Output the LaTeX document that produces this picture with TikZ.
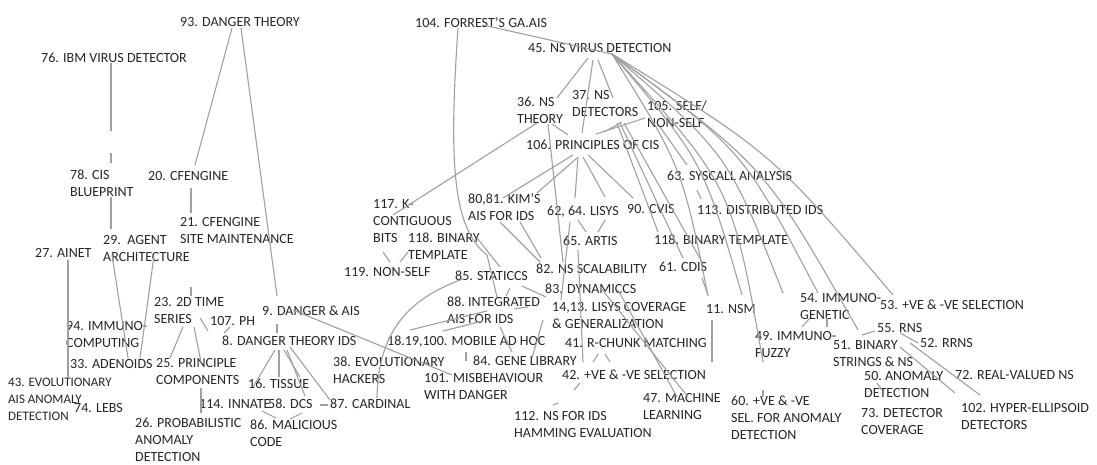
\documentclass[tikz,border=0pt]{standalone}
\usepackage{fontspec}
\setmainfont{Carlito}
\definecolor{txt}{HTML}{262626}
\definecolor{lnc}{HTML}{A0A0A0}
\begin{document}
\begin{tikzpicture}[x=1pt,y=-1pt,
  lab/.style={anchor=north west,inner sep=0pt,align=left,text=txt,font=\fontsize{14}{17}\selectfont},
  ln/.style={draw=lnc,line width=1.1pt}]
\useasboundingbox[fill=white] (0,0) rectangle (1097,465);
% ---------- labels ----------
\node[lab] (n93) at (180,17) {93. DANGER THEORY};
\node[lab] (n76) at (41,53) {76. IBM VIRUS DETECTOR};
\node[lab] (n78) at (70,170) {78. CIS\\BLUEPRINT};
\node[lab] (n20) at (148,171) {20. CFENGINE};
\node[lab] (n21) at (180,217) {21. CFENGINE\\SITE MAINTENANCE};
\node[lab] (n29) at (103,235) {29.\ \ AGENT\\ARCHITECTURE};
\node[lab] (n27) at (35,248) {27. AINET};
\node[lab] (n23) at (154,297) {23. 2D TIME\\SERIES};
\node[lab] (n107) at (210,316) {107. PH};
\node[lab] (n9) at (262,306) {9. DANGER \& AIS};
\node[lab] (n94) at (66,321) {94. IMMUNO-\\COMPUTING};
\node[lab] (n8) at (222,336) {8. DANGER THEORY IDS};
\node[lab] (n33) at (70,359) {33. ADENOIDS};
\node[lab] (n25) at (156,358) {25. PRINCIPLE\\COMPONENTS};
\node[lab,font=\fontsize{13}{17}\selectfont] (n43) at (8,378) {43. EVOLUTIONARY\\AIS ANOMALY\\DETECTION};
\node[lab] (n74) at (74,403) {74. LEBS};
\node[lab] (n16) at (248,379) {16. TISSUE};
\node[lab] (n114) at (199,399) {114. INNATE};
\node[lab] (n58) at (268,399) {58. DCS};
\node[lab] (n87) at (330,399) {87. CARDINAL};
\node[lab] (n86) at (250,420) {86. MALICIOUS\\CODE};
\node[lab] (n26) at (135,418) {26. PROBABILISTIC\\ANOMALY\\DETECTION};
\node[lab] (n38) at (333,357) {38. EVOLUTIONARY\\HACKERS};
\node[lab] (n101) at (424,373) {101. MISBEHAVIOUR\\WITH DANGER};
\node[lab] (n18) at (387,336) {18.19,100. MOBILE AD HOC};
\node[lab] (n84) at (473,356) {84. GENE LIBRARY};
\node[lab] (n88) at (447,297) {88.\ INTEGRATED\\AIS FOR IDS};
\node[lab] (n85) at (455,271) {85. STATICCS};
\node[lab] (n82) at (536,264) {82. NS SCALABILITY};
\node[lab] (n83) at (545,284) {83. DYNAMICCS};
\node[lab] (n14) at (552,302) {14,13. LISYS COVERAGE\\\& GENERALIZATION};
\node[lab] (n41) at (565,338) {41. R-CHUNK MATCHING};
\node[lab] (n42) at (562,370) {42. +VE \& -VE SELECTION};
\node[lab] (n47) at (643,393) {47. MACHINE\\LEARNING};
\node[lab] (n112) at (514,411) {112. NS FOR IDS\\HAMMING EVALUATION};
\node[lab] (n119) at (344,267) {119. NON-SELF};
\node[lab] (n118a) at (408,233) {118. BINARY\\TEMPLATE};
\node[lab] (n117) at (373,199) {117. K-\\CONTIGUOUS\\BITS};
\node[lab] (n80) at (468,193) {80,81. KIM'S\\AIS FOR IDS};
\node[lab] (n62) at (547,206) {62, 64. LISYS};
\node[lab] (n65) at (563,236) {65. ARTIS};
\node[lab] (n90) at (627,204) {90. CVIS};
\node[lab] (n113) at (697,205) {113. DISTRIBUTED IDS};
\node[lab] (n63) at (667,171) {63. SYSCALL ANALYSIS};
\node[lab] (n118b) at (654,235) {118. BINARY TEMPLATE};
\node[lab] (n61) at (659,262) {61. CDIS};
\node[lab] (n11) at (706,304) {11. NSM};
\node[lab] (n106) at (526,140) {106. PRINCIPLES OF CIS};
\node[lab] (n36) at (517,97) {36. NS\\THEORY};
\node[lab] (n37) at (572,90) {37. NS\\DETECTORS};
\node[lab] (n105) at (647,101) {105. SELF/\\NON-SELF};
\node[lab] (n45) at (528,43) {45. NS VIRUS DETECTION};
\node[lab] (n104) at (415,17) {104. FORREST'S GA.AIS};
\node[lab] (n54) at (800,293) {54. IMMUNO-\\GENETIC};
\node[lab] (n53) at (880,300) {53. +VE \& -VE SELECTION};
\node[lab] (n49) at (755,331) {49. IMMUNO-\\FUZZY};
\node[lab] (n55) at (877,323) {55. RNS};
\node[lab] (n52) at (920,338) {52. RRNS};
\node[lab] (n51) at (833,340) {51. BINARY\\STRINGS \& NS};
\node[lab] (n50) at (864,371) {50.\ ANOMALY\\DETECTION};
\node[lab] (n72) at (955,370) {72. REAL-VALUED NS};
\node[lab] (n60) at (731,396) {60. +VE \& -VE\\SEL. FOR ANOMALY\\DETECTION};
\node[lab] (n73) at (861,408) {73. DETECTOR\\COVERAGE};
\node[lab] (n102) at (961,403) {102. HYPER-ELLIPSOID\\DETECTORS};
% ---------- connectors ----------
% left part
\draw[ln] (232,28) -- (195,165);
\draw[ln] (241,28) -- (277,296);
\draw[ln] (111,63) -- (111,131);
\draw[ln] (111,153) -- (111,163);
\draw[ln] (111,197) -- (111,229);
\draw[ln] (191,188) -- (191,213);
\draw[ln] (68,260) -- (68,378);
\draw[ln] (112,255) -- (128,358);
\draw[ln] (154,256) -- (140,358);
\draw[ln] (191,287) -- (191,296);
\draw[ln] (183,327) -- (170,358);
\draw[ln] (194,327) -- (201,362);
\draw[ln] (201,388) -- (201,413);
\draw[ln] (200,318) -- (208,331);
\draw[ln] (230,327) -- (224,333);
\draw[ln] (277,324) -- (277,333);
\draw[ln] (275,350) -- (253,387);
\draw[ln] (279,350) -- (279,377);
\draw[ln] (284,350) -- (300,377);
\draw[ln] (287,350) -- (305,396);
\draw[ln] (290,347) -- (330,400);
\draw[ln] (262,411) -- (276,418);
\draw[ln] (290,419) -- (302,413);
\draw[ln] (320,405) -- (328,405);
\draw[ln] (293,310) -- (452,375);
\draw[ln] (377,398) .. controls (378,330) and (410,298) .. (463,279);
% top middle
\draw[ln] (483,25) -- (612,54);
\draw[ln] (458,28) .. controls (449,160) and (452,228) .. (487,255) -- (497,297);
\draw[ln] (588,58) -- (557,98);
\draw[ln] (593,60) -- (582,133);
\draw[ln] (598,60) -- (613,98);
% fan from 45
\draw[ln] (612,54) .. controls (682,167) .. (708,296);
\draw[ln] (612,54) .. controls (703,161) .. (742,295);
\draw[ln] (612,54) .. controls (732,186) .. (763,362);
\draw[ln] (612,54) .. controls (728,154) .. (783,293);
\draw[ln] (612,54) .. controls (743,150) .. (818,293);
\draw[ln] (612,54) .. controls (765,166) .. (858,330);
\draw[ln] (612,54) .. controls (772,153) .. (893,295);
% 36/37/105/106
\draw[ln] (645,118) -- (596,134);
\draw[ln] (622,122) -- (604,132);
\draw[ln] (552,124) -- (568,135);
\draw[ln] (660,127) -- (687,165);
\draw[ln] (697,190) -- (701,199);
\draw[ln] (617,123) -- (658,232);
\draw[ln] (620,123) -- (683,258);
\draw[ln] (624,123) -- (702,262);
\draw[ln] (573,155) -- (503,198);
\draw[ln] (577,158) -- (537,193);
\draw[ln] (578,157) -- (575,198);
\draw[ln] (583,157) -- (605,197);
\draw[ln] (588,155) -- (633,198);
\draw[ln] (537,123) -- (393,215);
\draw[ln] (548,124) -- (563,262);
% centre
\draw[ln] (500,222) -- (540,262);
\draw[ln] (520,222) -- (541,258);
\draw[ln] (477,238) -- (500,267);
\draw[ln] (383,252) -- (390,262);
\draw[ln] (400,262) -- (408,252);
\draw[ln] (510,288) -- (506,296);
\draw[ln] (522,286) -- (546,297);
\draw[ln] (514,309) -- (528,307);
\draw[ln] (487,311) -- (410,330);
\draw[ln] (483,321) -- (443,331);
\draw[ln] (500,327) -- (512,352);
\draw[ln] (532,358) -- (543,320);
\draw[ln] (466,352) -- (466,361);
\draw[ln] (578,220) -- (586,232);
\draw[ln] (605,220) -- (598,232);
\draw[ln] (570,222) -- (561,300);
\draw[ln] (578,250) -- (583,362);
\draw[ln] (600,287) -- (688,397);
\draw[ln] (618,290) -- (677,397);
\draw[ln] (593,362) -- (598,354);
\draw[ln] (605,354) -- (610,362);
\draw[ln] (580,383) -- (574,390);
\draw[ln] (553,405) -- (558,403);
\draw[ln] (702,278) -- (708,295);
\draw[ln] (712,320) -- (712,362);
% right part
\draw[ln] (763,390) -- (763,397);
\draw[ln] (802,327) -- (810,318);
\draw[ln] (827,327) -- (827,318);
\draw[ln] (862,335) -- (875,331);
\draw[ln] (900,333) -- (918,343);
\draw[ln] (910,343) -- (980,395);
\draw[ln] (900,347) -- (955,393);
\draw[ln] (877,383) -- (882,390);
\end{tikzpicture}
\end{document}
